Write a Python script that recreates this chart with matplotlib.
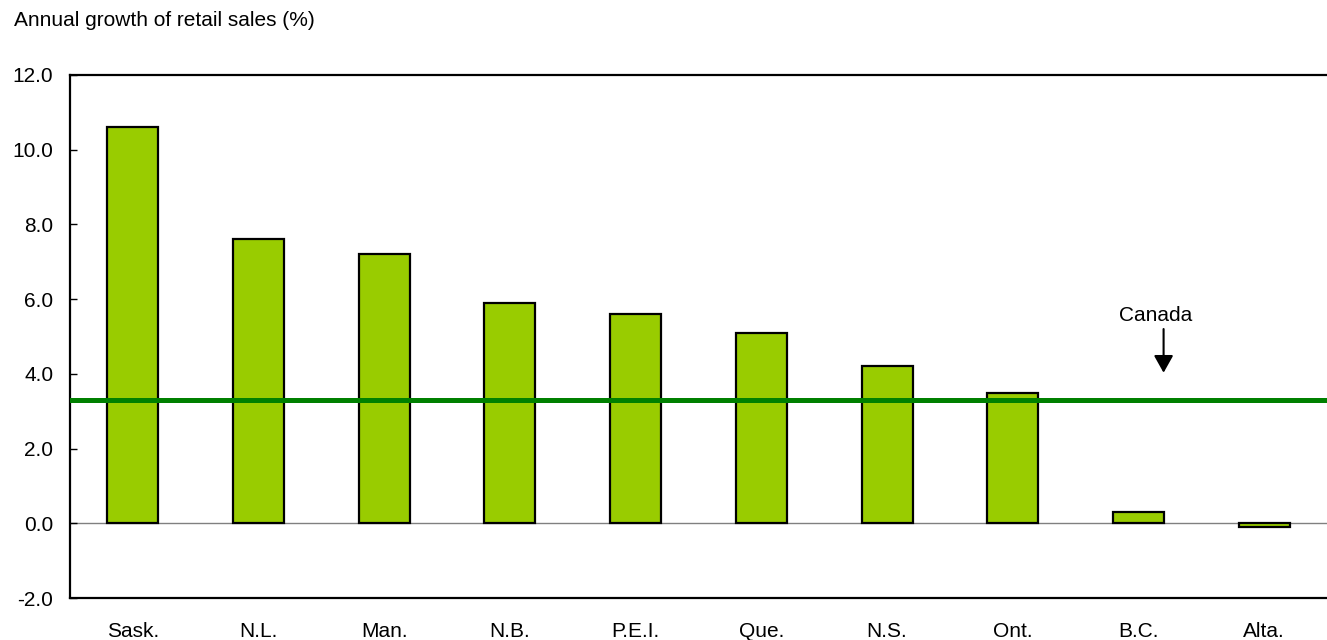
import matplotlib
matplotlib.use("Agg")
import matplotlib.pyplot as plt

provinces = ["Sask.", "N.L.", "Man.", "N.B.", "P.E.I.", "Que.", "N.S.", "Ont.", "B.C.", "Alta."]
growth = [10.6, 7.6, 7.2, 5.9, 5.6, 5.1, 4.2, 3.5, 0.3, -0.1]
canada = 3.3
yticks = [-2.0, 0.0, 2.0, 4.0, 6.0, 8.0, 10.0, 12.0]

plt.rcParams['font.family'] = ['Liberation Sans', 'DejaVu Sans']

fig = plt.figure(figsize=(13.27, 6.40), dpi=100)
ax = fig.add_axes([70/1327, 1-598/640, 1-70/1327, (598-75)/640])

x = list(range(len(provinces)))
ax.axhline(0, color='#808080', lw=1.0, zorder=1)
ax.bar(x, growth, width=0.405, color='#99CC00', edgecolor='black', linewidth=1.6, zorder=2)
ax.axhline(canada, color='#008000', lw=3.6, zorder=3)

ax.annotate("", xy=(8.2, 4.03), xytext=(8.2, 5.2),
            arrowprops=dict(arrowstyle='-|>,head_length=0.5,head_width=0.28', color='black',
                            lw=1.5, mutation_scale=21, shrinkA=0, shrinkB=0), zorder=4)
ax.text(8.14, 5.57, "Canada", ha='center', va='center', fontsize=15)

ax.set_xlim(-0.5, 9.5)
ax.set_ylim(-2, 12)
ax.set_yticks(yticks)
ax.set_yticklabels([f"{v:.1f}" for v in yticks])
ax.set_xticks(x)
ax.set_xticklabels(provinces)
ax.tick_params(axis='y', direction='in', length=5, width=1, labelsize=15, pad=12)
ax.tick_params(axis='x', length=0, labelsize=15, pad=17)

for s in ['left', 'top', 'bottom']:
    ax.spines[s].set_linewidth(1.6)
ax.spines['right'].set_visible(False)

fig.text(14/1327, 1-20/640, "Annual growth of retail sales (%)", ha='left', va='center', fontsize=15)

fig.savefig("out.png", dpi=100)
